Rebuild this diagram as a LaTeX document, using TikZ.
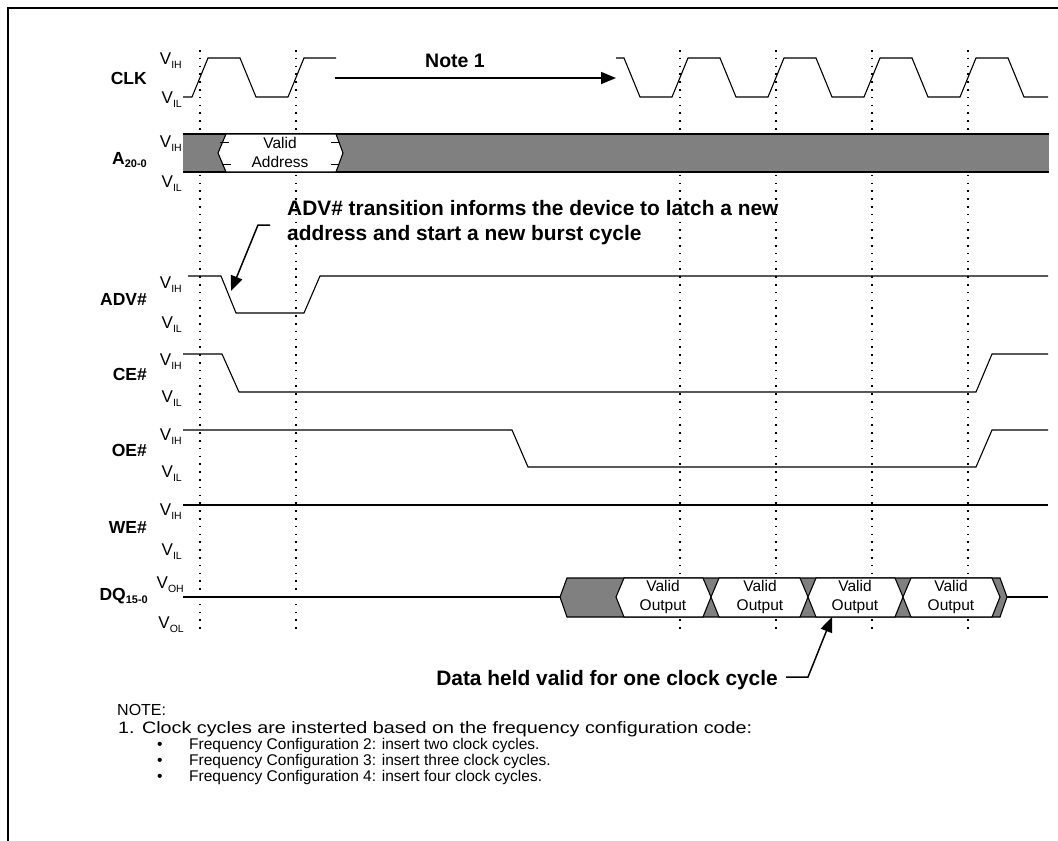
\documentclass[tikz,border=0pt]{standalone}
\usepackage{fontspec}
\usepackage{graphicx}
\setmainfont{Liberation Sans}
\usetikzlibrary{arrows.meta}
\newcommand\vlab[1]{V\raisebox{-4pt}{\fontsize{10.5}{10.5}\selectfont #1}}
\newcommand\sublab[2]{#1\raisebox{-3.5pt}{\fontsize{11}{11}\selectfont #2}}
\begin{document}
\begin{tikzpicture}[x=1pt,y=-1pt,
  wave/.style={line width=1.1pt, line join=miter},
  grid/.style={line width=1.1pt, dash pattern=on 1.6pt off 6.2pt},
  busfill/.style={fill=black!50, draw=black, line width=1.1pt},
  validbox/.style={fill=white, draw=black, line width=1.1pt},
  vtxt/.style={font=\fontsize{17}{17}\selectfont, anchor=base east, inner sep=0pt},
  sigtxt/.style={font=\fontsize{17.5}{17.5}\selectfont\bfseries, anchor=base east, inner sep=0pt},
  boxtxt/.style={font=\fontsize{15.5}{19}\selectfont, align=center, inner sep=0pt},
  anntxt/.style={font=\fontsize{20.9}{20.9}\selectfont\bfseries, inner sep=0pt},
  notetxt/.style={font=\fontsize{15.5}{15.5}\selectfont, anchor=base west, inner sep=0pt},
  callout/.style={line width=1.5pt, -{Triangle[length=15pt,width=12pt]}}
]
\useasboundingbox (0,0) rectangle (1058,841);
% frame
\draw[line width=2.6pt] (8,841) -- (8,8) -- (1058,8);

% dotted clock reference lines
\foreach \x in {200,296,680,776,872,968}
  \draw[grid] (\x,50) -- (\x,632);

% ---- CLK
\draw[wave] (183,97) -- (192,97) -- (208,58) -- (240,58) -- (256,97) -- (288,97) -- (304,58) -- (336,58);
\draw[wave] (616,58) -- (624,58) -- (640,97) -- (672,97) -- (688,58) -- (720,58) -- (736,97) -- (768,97)
  -- (784,58) -- (816,58) -- (832,97) -- (864,97) -- (880,58) -- (912,58) -- (928,97) -- (960,97)
  -- (976,58) -- (1008,58) -- (1024,97) -- (1048,97);
\coordinate (n1s) at (335,78);
\coordinate (n1e) at (616,78);
\draw[callout] (n1s) -- (n1e);
\node[anntxt, font=\fontsize{19.5}{19.5}\selectfont\bfseries] (note1) at (455,61) {Note 1};

% ---- A20-0
\fill[black!50] (183,134) rectangle (1049,172);
\draw[wave] (183,134) -- (1049,134);
\draw[wave] (183,172) -- (1049,172);
\draw[validbox] (218,153) -- (226,134) -- (336,134) -- (343,153) -- (336,172) -- (226,172) -- cycle;
\draw[line width=0.9pt] (220,142) -- (229,142) (222,164) -- (231,164)
  (331,142) -- (339,142) (331,164) -- (339,164);
\node[boxtxt] (va) at (280,152.5) {Valid\\Address};

% ---- ADV#
\draw[wave] (188,276) -- (221,276) -- (236,313) -- (304,313) -- (320,276) -- (1048,276);
\node[anntxt, anchor=base west] (adv1) at (287,215) {ADV\# transition informs the device to latch a new};
\node[anntxt, anchor=base west] (adv2) at (287,240) {address and start a new burst cycle};
\coordinate (a1) at (270,225);
\coordinate (a2) at (258,225);
\coordinate (a3) at (231,291);
\draw[callout] (a1) -- (a2) -- (a3);

% ---- CE#
\draw[wave] (183,354) -- (222,354) -- (239,392) -- (976,392) -- (992,354) -- (1048,354);
% ---- OE#
\draw[wave] (183,430) -- (512,430) -- (528,467) -- (976,467) -- (992,430) -- (1048,430);
% ---- WE#
\draw[wave] (183,505) -- (1048,505);

% ---- DQ15-0
\draw[wave] (183,597) -- (560,597);
\draw[wave] (1007,597) -- (1048,597);
\draw[busfill] (560,597) -- (567,578) -- (1000,578) -- (1007,597) -- (1000,617) -- (567,617) -- cycle;
\draw[validbox] (616,597) -- (624,578) -- (703,578) -- (711,597) -- (703,617) -- (624,617) -- cycle;
\draw[validbox] (711,597) -- (719,578) -- (800,578) -- (808,597) -- (800,617) -- (719,617) -- cycle;
\draw[validbox] (808,597) -- (816,578) -- (895,578) -- (903,597) -- (895,617) -- (816,617) -- cycle;
\draw[validbox] (903,597) -- (911,578) -- (992,578) -- (1000,597) -- (992,617) -- (911,617) -- cycle;
\node[boxtxt] (vo1) at (663,597) {Valid\\Output};
\node[boxtxt] (vo2) at (760,597) {Valid\\Output};
\node[boxtxt] (vo3) at (855,597) {Valid\\Output};
\node[boxtxt] (vo4) at (951,597) {Valid\\Output};

\node[anntxt, anchor=base east] (dh) at (778,685) {Data held valid for one clock cycle};
\coordinate (d1) at (786,677);
\coordinate (d2) at (808,677);
\coordinate (d3) at (832,617);
\draw[callout] (d1) -- (d2) -- (d3);

% ---- signal names
\node[sigtxt] (lclk) at (147,84) {CLK};
\node[sigtxt] (la) at (147,164) {\sublab{A}{20-0}};
\node[sigtxt] (ladv) at (147,305) {ADV\#};
\node[sigtxt] (lce) at (147,380) {CE\#};
\node[sigtxt] (loe) at (147,456) {OE\#};
\node[sigtxt] (lwe) at (147,533) {WE\#};
\node[sigtxt] (ldq) at (148,600) {\sublab{DQ}{15-0}};

% ---- level labels
\node[vtxt] (c1) at (182,64) {\vlab{IH}};
\node[vtxt] (c2) at (182,103) {\vlab{IL}};
\node[vtxt] (b1) at (182,147) {\vlab{IH}};
\node[vtxt] (b2) at (182,187) {\vlab{IL}};
\node[vtxt] (d1l) at (182,288) {\vlab{IH}};
\node[vtxt] (d2l) at (182,328) {\vlab{IL}};
\node[vtxt] (e1) at (182,365) {\vlab{IH}};
\node[vtxt] (e2) at (182,402) {\vlab{IL}};
\node[vtxt] (o1) at (182,440) {\vlab{IH}};
\node[vtxt] (o2) at (182,477) {\vlab{IL}};
\node[vtxt] (w1) at (182,515) {\vlab{IH}};
\node[vtxt] (w2) at (182,555) {\vlab{IL}};
\node[vtxt] (q1) at (184,588) {\vlab{OH}};
\node[vtxt] (q2) at (184,628) {\vlab{OL}};

% ---- notes
\node[notetxt, font=\fontsize{16}{16}\selectfont] (nh) at (117,715) {NOTE:};
\node[notetxt, font=\fontsize{16.5}{16.5}\selectfont] (n1) at (118,733) {\resizebox{634pt}{\height}{1. Clock cycles are insterted based on the frequency configuration code:}};
\node[notetxt] (b1d) at (157,749) {\textbullet};
\node[notetxt] (b2d) at (157,765) {\textbullet};
\node[notetxt] (b3d) at (157,781) {\textbullet};
\node[notetxt] (f2) at (189,749) {Frequency Configuration 2: insert two clock cycles.};
\node[notetxt] (f3) at (189,765) {Frequency Configuration 3: insert three clock cycles.};
\node[notetxt] (f4) at (189,781) {Frequency Configuration 4: insert four clock cycles.};
\end{tikzpicture}
\end{document}
